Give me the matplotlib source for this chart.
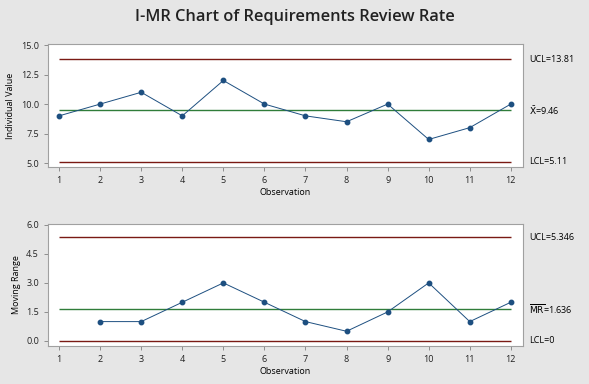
import matplotlib.pyplot as plt

plt.rcParams['font.family'] = ['Open Sans', 'DejaVu Sans']

# data
obs = list(range(1, 13))
individual = [9, 10, 11, 9, 12, 10, 9, 8.5, 10, 7, 8, 10]
mr_obs = list(range(2, 13))
moving_range = [1, 1, 2, 3, 2, 1, 0.5, 1.5, 3, 1, 2]

i_ucl, i_mean, i_lcl = 13.81, 9.46, 5.11
mr_ucl, mr_mean, mr_lcl = 5.346, 1.636, 0

red = '#7a1a14'
green = '#2f7d3a'
blue = '#1d4f80'
bg = '#e6e6e6'

fig = plt.figure(figsize=(5.89, 3.84), dpi=100)
fig.patch.set_facecolor(bg)
fig.text(0.5, 0.955, 'I-MR Chart of Requirements Review Rate', ha='center', va='center',
         fontsize=11.8, fontweight='semibold', color='#222222')

ax1 = fig.add_axes([0.0815, 0.565, 0.806, 0.32])
ax2 = fig.add_axes([0.0815, 0.099, 0.806, 0.318])


def style(ax):
    ax.set_facecolor('white')
    for s in ax.spines.values():
        s.set_color('#a0a0a0')
        s.set_linewidth(0.8)
    ax.tick_params(labelsize=6.5, length=3, width=0.6, color='#808080', labelcolor='#222222')
    ax.set_xticks(obs)
    ax.set_xlim(0.73, 12.29)
    ax.set_xlabel('Observation', fontsize=6.5, labelpad=2)


style(ax1)
ax1.hlines([i_ucl, i_lcl], 1, 12, color=red, lw=1)
ax1.hlines(i_mean, 1, 12, color=green, lw=1)
ax1.plot(obs, individual, color=blue, lw=0.7, marker='o', ms=3.2)
ax1.set_ylim(4.66, 15.08)
ax1.set_yticks([5.0, 7.5, 10.0, 12.5, 15.0])
ax1.set_yticklabels(['5.0', '7.5', '10.0', '12.5', '15.0'])
ax1.set_ylabel('Individual Value', fontsize=6.5, labelpad=4)
ax1.text(12.45, i_ucl, 'UCL=13.81', fontsize=6.5, va='center', clip_on=False)
ax1.text(12.45, i_mean, '$\\bar{\\mathrm{X}}$=9.46', fontsize=6.5, va='center', clip_on=False)
ax1.text(12.45, i_lcl, 'LCL=5.11', fontsize=6.5, va='center', clip_on=False)

style(ax2)
ax2.hlines([mr_ucl, mr_lcl], 1, 12, color=red, lw=1)
ax2.hlines(mr_mean, 1, 12, color=green, lw=1)
ax2.plot(mr_obs, moving_range, color=blue, lw=0.7, marker='o', ms=3.2)
ax2.set_ylim(-0.26, 6.05)
ax2.set_yticks([0.0, 1.5, 3.0, 4.5, 6.0])
ax2.set_yticklabels(['0.0', '1.5', '3.0', '4.5', '6.0'])
ax2.set_ylabel('Moving Range', fontsize=6.5, labelpad=4)
ax2.text(12.45, mr_ucl, 'UCL=5.346', fontsize=6.5, va='center', clip_on=False)
ax2.text(12.45, mr_mean, '$\\overline{\\mathrm{MR}}$=1.636', fontsize=6.5, va='center', clip_on=False)
ax2.text(12.45, mr_lcl, 'LCL=0', fontsize=6.5, va='center', clip_on=False)

fig.savefig('out.png', dpi=100, facecolor=bg)
